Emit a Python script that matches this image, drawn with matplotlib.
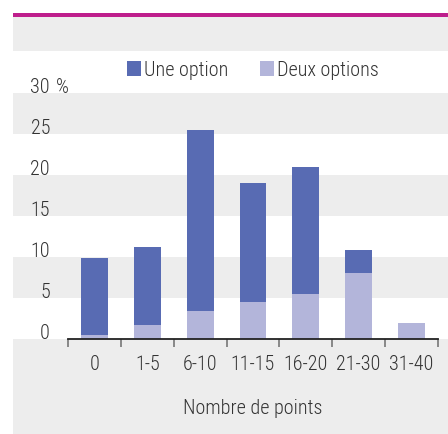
import matplotlib
matplotlib.use("Agg")
import matplotlib.pyplot as plt
from matplotlib.transforms import blended_transform_factory
from matplotlib.patches import Rectangle

categories = ["0", "1-5", "6-10", "11-15", "16-20", "21-30", "31-40"]
une_option = [9.4, 9.6, 22.1, 14.5, 15.5, 2.8, 0.0]
deux_option = [0.5, 1.7, 3.4, 4.5, 5.5, 8.1, 2.0]
ytick_vals = [0, 5, 10, 15, 20, 25, 30]
ytick_labels = ["0", "5", "10", "15", "20", "25", "30"]
series_names = ["Une option", "Deux options"]
xlabel = "Nombre de points"

plt.rcParams["font.family"] = ["Roboto Condensed", "DejaVu Sans"]
plt.rcParams["font.weight"] = "light"

W, H = 448, 434
fig = plt.figure(figsize=(W / 100, H / 100), dpi=100)
fig.patch.set_facecolor("white")

ax_left, ax_top = 13, 17
ax = fig.add_axes([ax_left / W, 0, (W - ax_left) / W, (H - ax_top) / H])
ax.set_facecolor("white")

pxu = 52.83
c0 = 94.5
ax.set_xlim(-(c0 - ax_left) / pxu, (W - c0) / pxu)
ppy = 8.21
y0 = 339.3
ax.set_ylim(-(H - y0) / ppy, (y0 - ax_top) / ppy)

gray = "#ededed"
ylo, yhi = ax.get_ylim()
for a, b in [(ylo, 0), (5, 10), (15, 20), (25, 30), (35.1, yhi)]:
    ax.axhspan(a, b, color=gray, lw=0, zorder=0)

x = list(range(len(categories)))
c_une = "#586bb3"
c_deux = "#b3b5da"
ax.bar(x, deux_option, width=0.51, color=c_deux, zorder=2, label=series_names[1])
ax.bar(x, une_option, width=0.51, bottom=deux_option, color=c_une, zorder=2, label=series_names[0])

for s in ["top", "right", "left"]:
    ax.spines[s].set_visible(False)
ax.spines["bottom"].set_position(("data", 0))
ax.spines["bottom"].set_bounds(-0.5, len(categories) - 0.5)
ax.spines["bottom"].set_color("#222222")
ax.spines["bottom"].set_linewidth(1.3)
ax.spines["bottom"].set_zorder(3)

ax.set_xticks([i - 0.5 for i in range(len(categories) + 1)])
ax.set_xticklabels([])
ax.tick_params(axis="x", which="major", direction="out", length=5.5, width=1.2, color="#777777")
ax.set_xticks(x, minor=True)
ax.set_xticklabels(categories, minor=True)
ax.tick_params(axis="x", which="minor", length=0, pad=11, labelsize=14.5, labelcolor="#333333")
ax.set_yticks([])

tcol = "#333333"
tr = blended_transform_factory(fig.transFigure, ax.transData)
for v, lab in zip(ytick_vals, ytick_labels):
    ax.text(50 / W, v, lab, transform=tr, ha="right", va="baseline", fontsize=14.5, color=tcol)
ax.text(56 / W, 30, "%", transform=tr, ha="left", va="baseline", fontsize=14.5, color=tcol)

ax.text(3.0, -(408 - y0) / ppy, xlabel, ha="center", va="center", fontsize=14.5, color=tcol)

# magenta rule at top
fig.add_artist(Rectangle((ax_left / W, (H - 17) / H), (W - ax_left) / W, 4 / H,
                         transform=fig.transFigure, color="#be1e8c", lw=0))

handles, labels = ax.get_legend_handles_labels()
leg = fig.legend(handles[::-1], labels[::-1], loc="center left",
                 bbox_to_anchor=(127 / W, (H - 70) / H), ncol=2, frameon=False,
                 fontsize=14.5, handlelength=0.7, handleheight=0.7, handletextpad=0.15,
                 columnspacing=1.55, borderpad=0, borderaxespad=0, labelcolor=tcol)

fig.savefig("out.png", dpi=100)
